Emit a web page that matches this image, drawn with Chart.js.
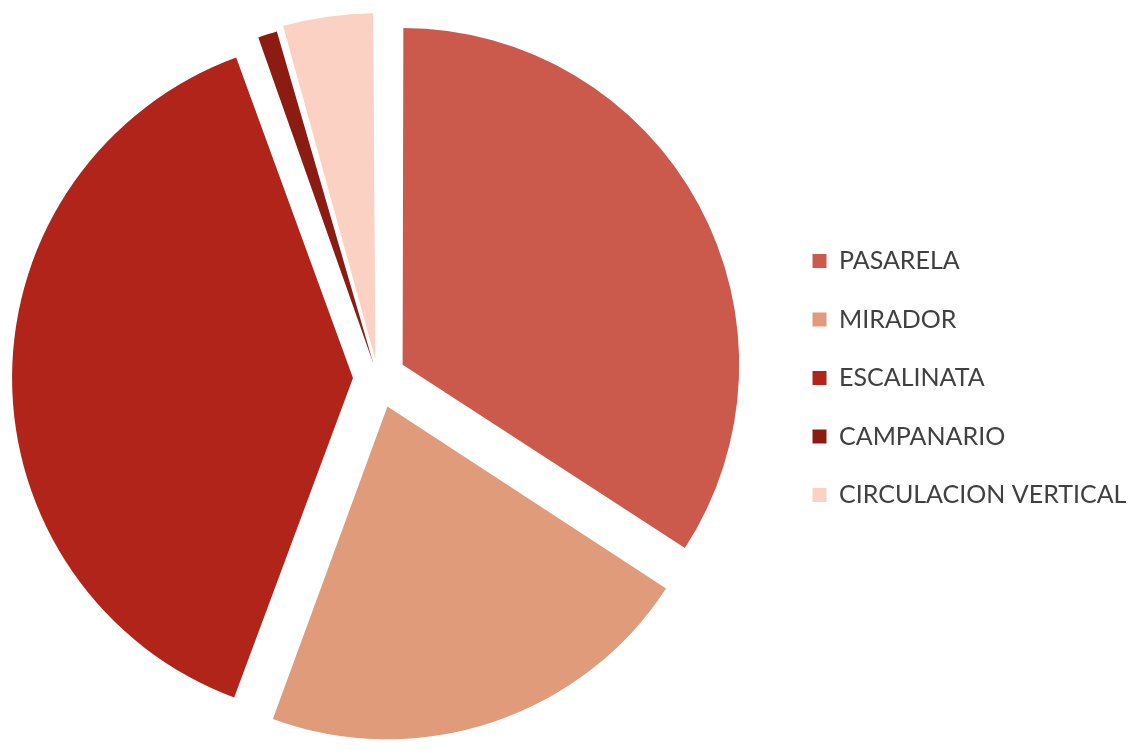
<!DOCTYPE html>
<html>
<head>
<meta charset="utf-8">
<script src="https://cdn.jsdelivr.net/npm/chart.js@4"></script>
<style>
	html, body {
		margin: 0;
		padding: 0;
		background: #fff;
		overflow: hidden;
	}
	#wrap {
		position: absolute;
		left: -23px;
		top: -14px;
		width: 1164px;
		height: 784px;
	}
</style>
</head>
<body>
<div id="wrap"><canvas id="pieChart"></canvas></div>
<script>
// categorias y porcentajes
const labels = ["PASARELA", "MIRADOR", "ESCALINATA", "CAMPANARIO", "CIRCULACION VERTICAL"];
const values = [34.2, 21.4, 38.9, 1.1, 4.4];
const colors = ["#CC5A4C", "#DF9B7A", "#B1241A", "#8C1B12", "#FAD1C2"];
// separacion de cada porcion (chart.js la mueve offset/4 px)
const offsets = [112, 120, 100, 60, 76];

document.addEventListener("DOMContentLoaded", () => {
	renderPieChart();
});

function renderPieChart() {
	const ctx = document.getElementById("pieChart").getContext("2d");
	new Chart(ctx, {
		type: "pie",
		data: {
			labels: labels,
			datasets: [
				{
					data: values,
					backgroundColor: colors,
					borderWidth: 0,
					offset: offsets,
				},
			],
		},
		options: {
			responsive: true,
			maintainAspectRatio: false,
			animation: false,
			layout: {
				padding: { top: 0, bottom: 0, left: 0, right: 7 },
			},
			plugins: {
				tooltip: { enabled: false },
				legend: {
					position: "right",
					maxWidth: 355,
					labels: {
						boxWidth: 14,
						boxHeight: 14,
						padding: 33.5,
						color: "#404040",
						font: { family: "Lato", size: 25 },
					},
				},
			},
		},
	});
}
</script>
</body>
</html>
